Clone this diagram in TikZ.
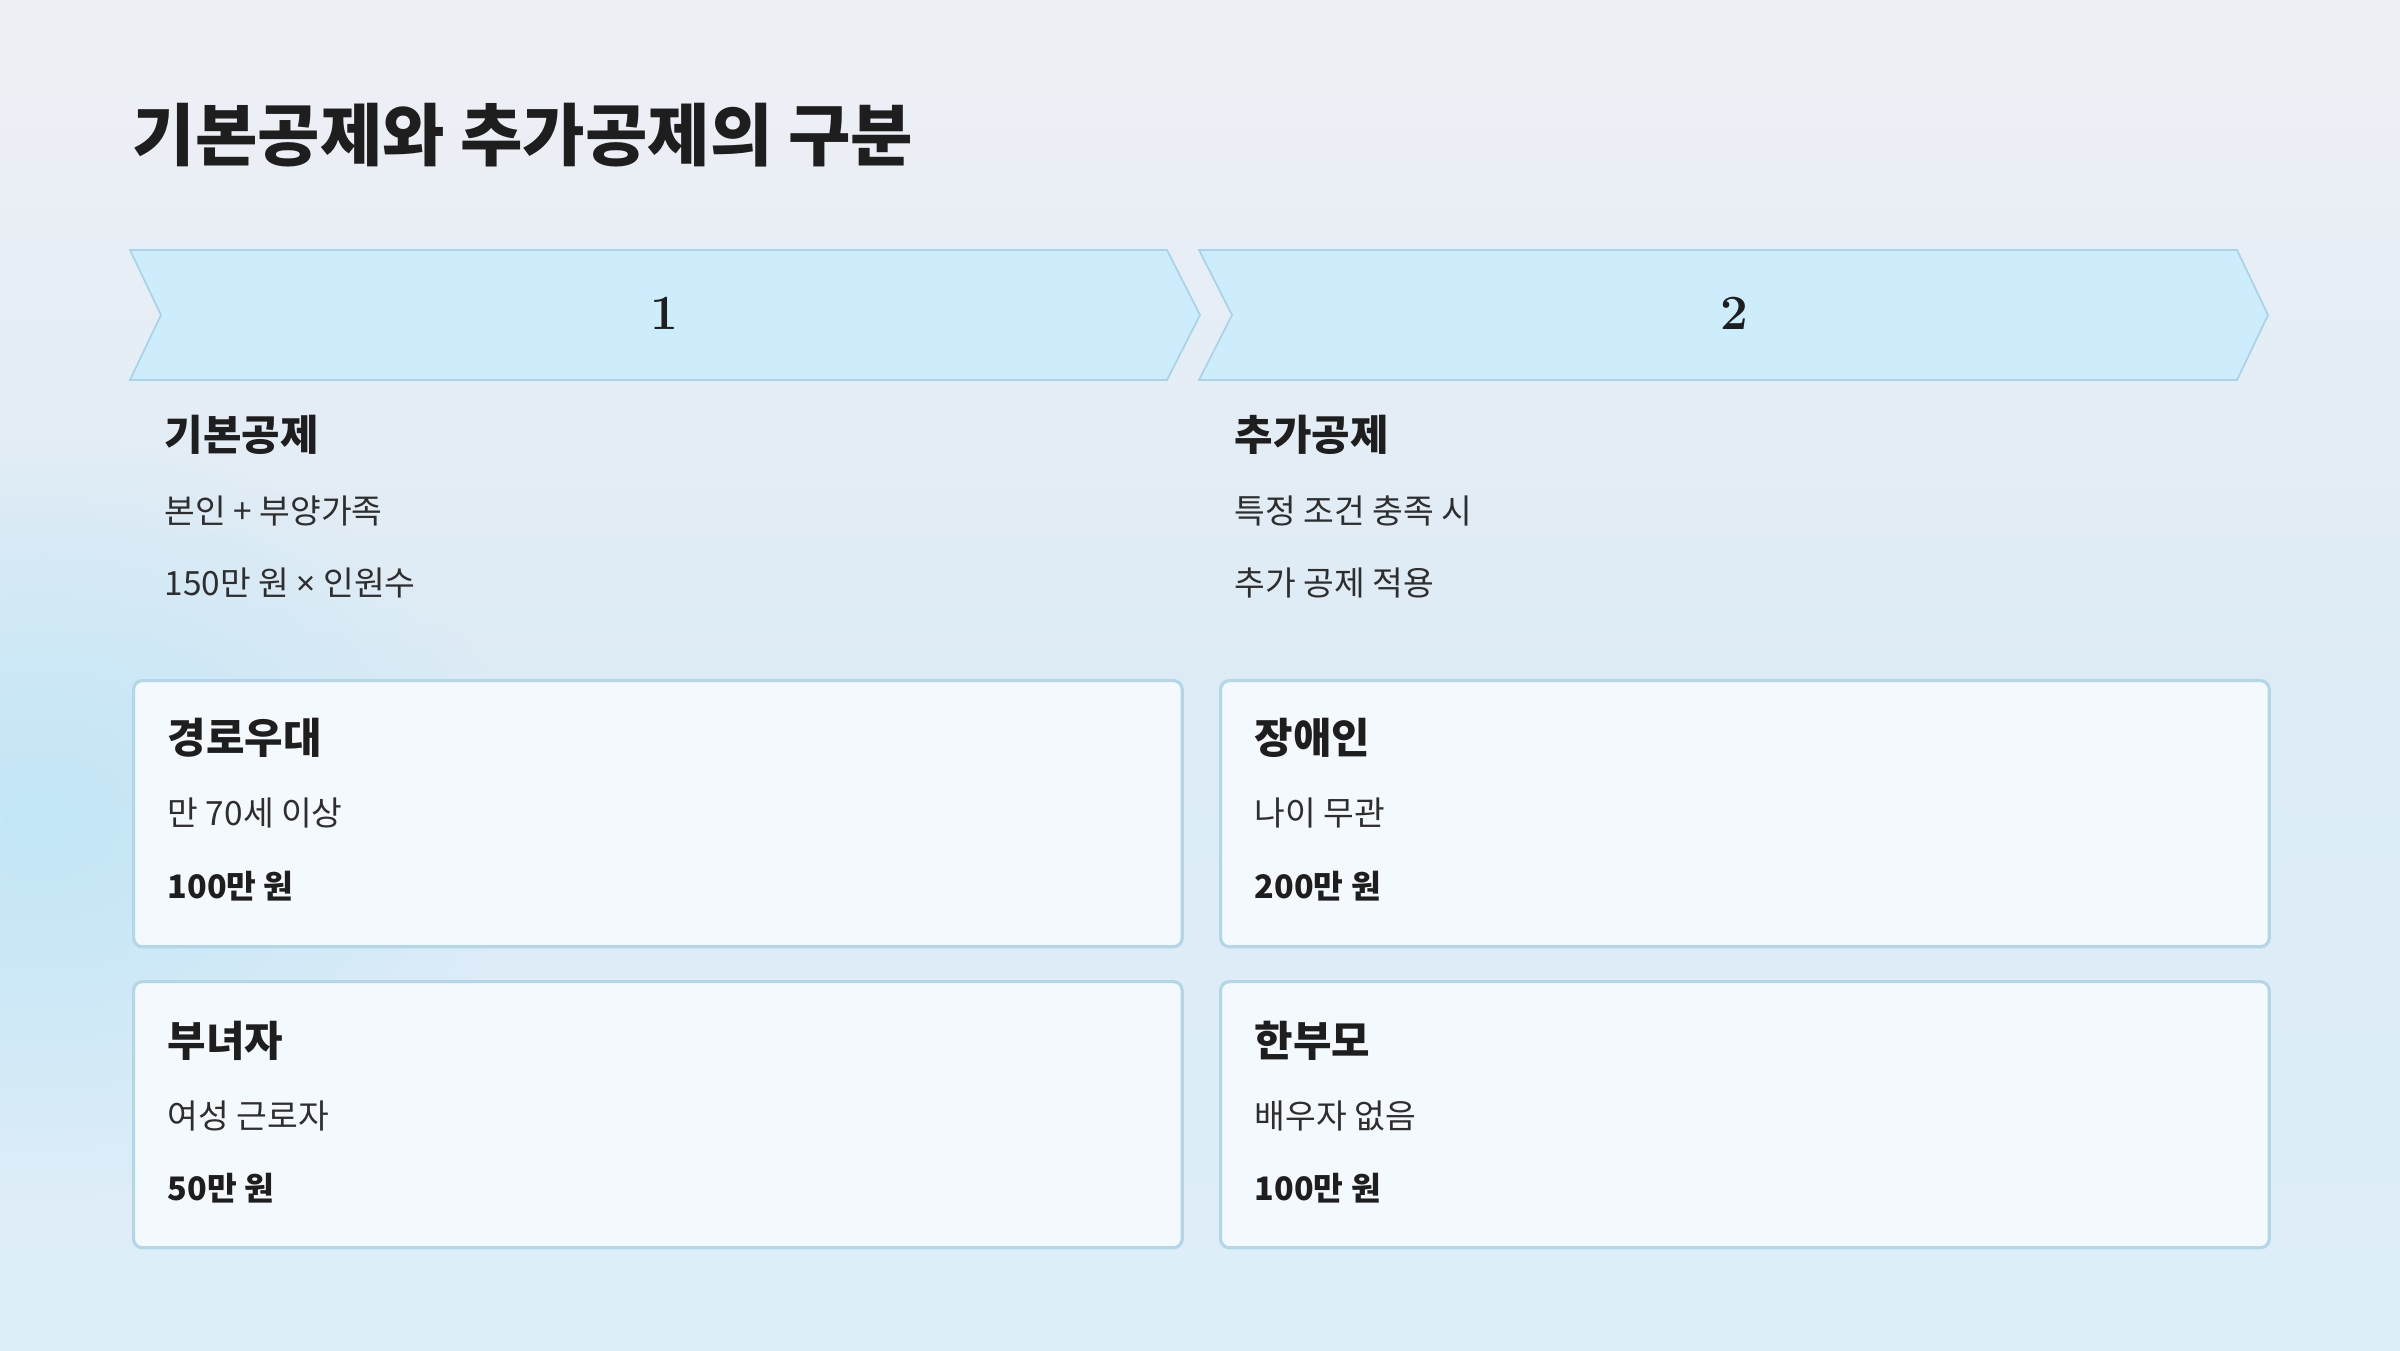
\documentclass[tikz,border=0pt]{standalone}
\usepackage{fontspec}
\usepackage{xcolor}
\usepackage{tikz}
\usetikzlibrary{shapes,positioning,fadings}
\newfontfamily\kr{Noto Sans CJK KR}
\newfontfamily\lat{Noto Sans}
\definecolor{bgtop}{HTML}{EFF0F5}
\definecolor{bgmid}{HTML}{DCEBF5}
\definecolor{bgbot}{HTML}{DEEEF9}
\definecolor{blob}{HTML}{C2E6F7}
\definecolor{chevfill}{HTML}{CDEDFD}
\definecolor{chevline}{HTML}{A9D4E8}
\definecolor{cardfill}{HTML}{F4F9FD}
\definecolor{cardline}{HTML}{B3D7E8}
\definecolor{ink}{HTML}{1E1E1E}
\definecolor{body}{HTML}{2E2E2E}
\tikzfading[name=blobfade,inner color=transparent!0,outer color=transparent!100]
\tikzset{chev/.style={fill=chevfill,draw=chevline,line width=0.5pt,line join=miter},
  card/.style={draw=cardline,fill=cardfill,line width=0.9pt,rounded corners=2.5pt,minimum width=10.48cm,minimum height=2.66cm,anchor=north west,inner sep=0pt},
  lbl/.style={anchor=west,inner sep=0pt,text=body,font=\kr\fontsize{9.5}{11}\selectfont},
  head/.style={anchor=west,inner sep=0pt,text=ink,font=\kr\bfseries\fontsize{11.9}{14}\selectfont},
  amount/.style={anchor=west,inner sep=0pt,text=ink,font=\kr\bfseries\fontsize{9.2}{11}\selectfont},
  num/.style={inner sep=0pt,text=ink,font=\bfseries\fontsize{14}{16}\selectfont}}

\begin{document}
\begin{tikzpicture}[x=0.01cm,y=-0.01cm]
    % background
    \useasboundingbox (0,0) rectangle (2400,1350);
    \shade[top color=bgtop,bottom color=bgmid] (0,0) rectangle (2400,700);
    \shade[top color=bgmid,bottom color=bgbot] (0,700) rectangle (2400,1350);
    \fill[blob,path fading=blobfade] (40,820) ellipse (480 and 380);

    \node[ink,anchor=west,inner sep=0pt,font=\kr\bfseries\fontsize{19.3}{22}\selectfont] (title) at (132,135) {기본공제와 추가공제의 구분};

    % steps
    \draw[chev] (130,250) -- (1167,250) -- (1200,315) -- (1167,380) -- (130,380) -- (161,315) -- cycle;
    \draw[chev] (1199,250) -- (2237,250) -- (2268,315) -- (2237,380) -- (1199,380) -- (1232,315) -- cycle;
    \node[num] (n1) at (664,313) {1};
    \node[num] (n2) at (1734,313) {2};

    \node[head] (basic) at (164,435) {기본공제};
    \node[lbl] (b1) at (164,511) {본인 + 부양가족};
    \node[lbl] (b2) at (164,583) {150만 원 {\lat ×} 인원수};
    \node[head] (extra) at (1234,435) {추가공제};
    \node[lbl] (e1) at (1234,511) {특정 조건 충족 시};
    \node[lbl] (e2) at (1234,583) {추가 공제 적용};

    % cards
    \node[card] (c1) at (132,679) {};
    \node[card] (c2) at (1219,679) {};
    \node[card] (c3) at (132,980) {};
    \node[card] (c4) at (1219,980) {};

    \node[head] (t1) at (167,738) {경로우대};
    \node[lbl] (s1) at (167,813) {만 70세 이상};
    \node[amount] (v1) at (167,886) {100만 원};
    \node[head] (t2) at (1254,738) {장애인};
    \node[lbl] (s2) at (1254,813) {나이 무관};
    \node[amount] (v2) at (1254,886) {200만 원};
    \node[head] (t3) at (167,1041) {부녀자};
    \node[lbl] (s3) at (167,1116) {여성 근로자};
    \node[amount] (v3) at (167,1188) {50만 원};
    \node[head] (t4) at (1254,1041) {한부모};
    \node[lbl] (s4) at (1254,1116) {배우자 없음};
    \node[amount] (v4) at (1254,1188) {100만 원};
\end{tikzpicture}
\end{document}
